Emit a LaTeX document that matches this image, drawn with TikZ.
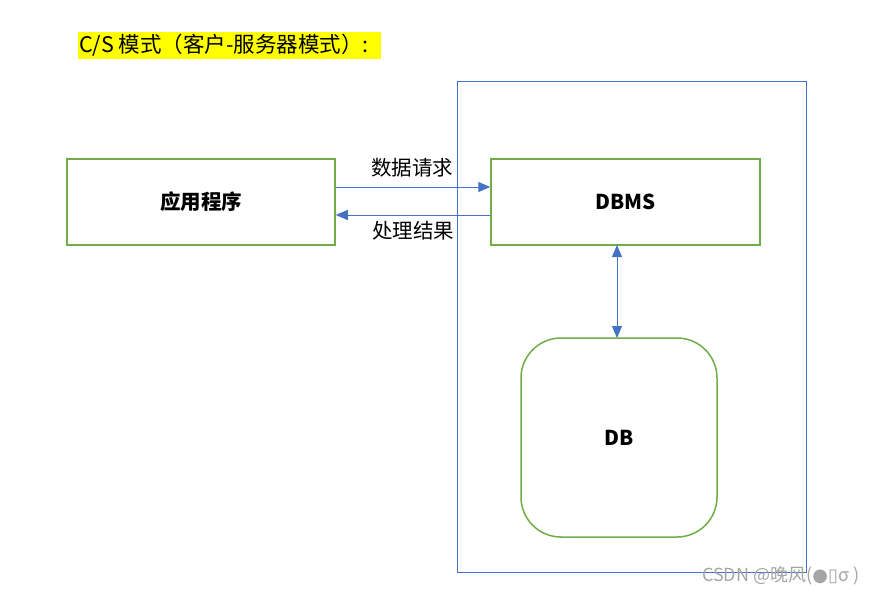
\documentclass[tikz,border=0pt]{standalone}
\usepackage{fontspec}
\setmainfont{Noto Sans CJK SC}
\newfontfamily\symfont{DejaVu Sans}
\usetikzlibrary{arrows.meta}
\definecolor{gboxc}{HTML}{70AD47}
\definecolor{blinec}{HTML}{4472C4}
\definecolor{hlc}{HTML}{FFFF00}
\tikzset{
  gbox/.style={draw=gboxc, line width=1.5pt, inner sep=0pt},
  blink/.style={draw=blinec, line width=1pt},
  arr/.style={blink, -{Triangle[length=12pt,width=10pt]}},
  darr/.style={blink, {Triangle[length=12pt,width=10pt]}-{Triangle[length=12pt,width=10pt]}},
  lbl/.style={font=\fontsize{20.5}{22}\selectfont, inner sep=0pt},
  blbl/.style={font=\fontsize{20.5}{22}\selectfont\bfseries, inner sep=0pt}
}
\begin{document}
\begin{tikzpicture}[x=1pt,y=-1pt]
\useasboundingbox[fill=white] (0,0) rectangle (885,595);
% title
\node[fill=hlc, anchor=north west, minimum width=303pt, minimum height=27pt, inner sep=0pt] (titlebg) at (78,32) {};
\node[anchor=west, inner sep=0pt, font=\fontsize{21.5}{23}\selectfont] (title) at (79,45.5) {C/S 模式（客户-服务器模式）:};
% outer server rect
\draw[blink, line width=0.8pt] (457,81) rectangle (806,572);
% boxes
\node[gbox, minimum width=268pt, minimum height=86pt, blbl] (app) at (201,202) {应用程序};
\node[gbox, minimum width=269pt, minimum height=86pt, blbl] (dbms) at (625.5,202) {DBMS};
\node[gbox, rounded corners=40pt, minimum width=196pt, minimum height=199pt, blbl] (db) at (619,437.5) {DB};
% arrows
\draw[arr] (app.east |- 0,187) coordinate (a1) -- (dbms.west |- 0,187) coordinate (b1);
\draw[arr] (dbms.west |- 0,215) coordinate (b2) -- (app.east |- 0,215) coordinate (a2);
\node[lbl] (req) at (412,168) {数据请求};
\node[lbl] (res) at (413,231) {处理结果};
\draw[darr] (617,245) coordinate (c1) -- (617,338) coordinate (c2);
% watermark
\node[anchor=west, inner sep=0pt, text=gray!70, font=\fontsize{18}{20}\selectfont] (wm) at (702,576) {CSDN @晚风({\symfont ●}{\symfont ▯}σ )};
\end{tikzpicture}
\end{document}
